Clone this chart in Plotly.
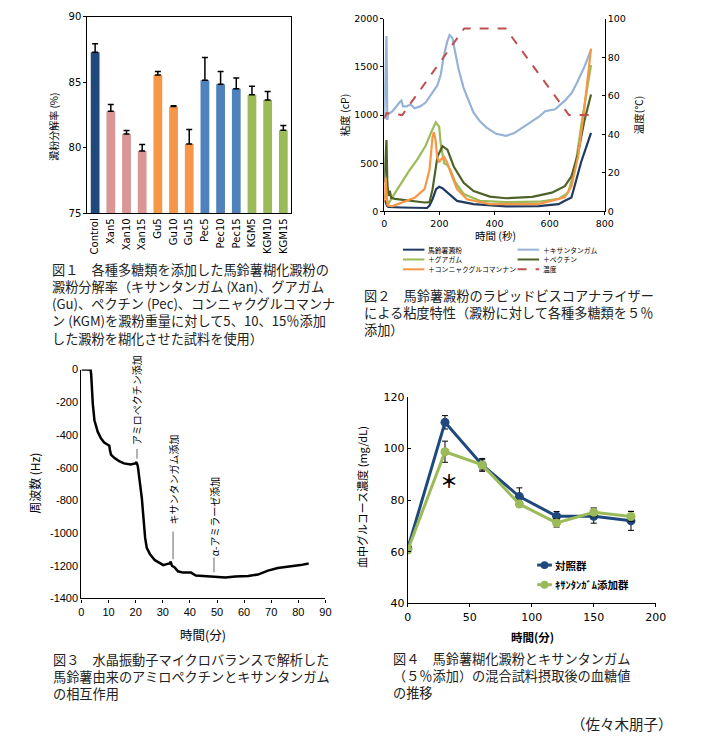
import plotly.graph_objects as go

W, H = 705, 744
def X(px): return px / W
def Y(py): return 1 - py / H

JP = "Noto Sans CJK JP"
NUM = "DejaVu Sans, Noto Sans CJK JP"
ARIAL = "Liberation Sans, Noto Sans CJK JP"

# ---------------- Fig 1 data ----------------
bar_cats = ["Control", "Xan5", "Xan10", "Xan15", "Gu5", "Gu10", "Gu15",
            "Pec5", "Pec10", "Pec15", "KGM5", "KGM10", "KGM15"]
bar_vals = [87.3, 82.8, 81.05, 79.75, 85.55, 83.15, 80.3, 85.15, 84.85, 84.5, 84.05, 83.65, 81.35]
bar_errs = [0.65, 0.5, 0.28, 0.5, 0.27, 0.07, 1.1, 1.75, 0.97, 0.82, 0.65, 0.65, 0.35]
bar_colors = ["#1F497D", "#D99694", "#D99694", "#D99694", "#F79646", "#F79646", "#F79646",
              "#4F81BD", "#4F81BD", "#4F81BD", "#9BBB59", "#9BBB59", "#9BBB59"]

# ---------------- Fig 2 data (RVA) ----------------
potato_t = [0, 5, 10, 15, 62, 110, 155, 164, 175, 188, 199, 211, 229, 264, 324, 442, 560, 632, 655, 679, 714, 750]
potato_v = [110, 100, 55, 45, 40, 38, 35, 60, 126, 230, 255, 240, 194, 109, 75, 51, 55, 75, 110, 143, 510, 815]

xan_t = [0, 4, 8, 11, 14, 30, 45, 55, 62, 68, 80, 95, 110, 130, 150, 175, 193, 205, 215, 228, 237, 247,
         258, 270, 288, 305, 323, 347, 371, 406, 442, 470, 513, 560, 584, 600, 620, 655, 680, 700, 726, 750]
xan_v = [980, 1300, 1820, 950, 1010, 1040, 1100, 1130, 1150, 1090, 1090, 1110, 1070, 1090, 1130, 1230, 1310,
         1420, 1600, 1760, 1830, 1800, 1640, 1470, 1280, 1150, 1030, 935, 870, 805, 785, 810, 890, 980,
         1040, 1050, 1060, 1150, 1230, 1340, 1500, 1680]

guar_t = [0, 5, 12, 15, 30, 60, 90, 120, 150, 170, 187, 199, 205, 217, 229, 240, 258, 288, 347, 442, 560,
          632, 667, 691, 715, 750]
guar_v = [130, 180, 90, 80, 150, 290, 420, 540, 680, 820, 925, 880, 700, 500, 480, 430, 300, 180, 110, 95,
          100, 130, 195, 430, 900, 1520]

pec_t = [0, 4, 8, 11, 15, 20, 25, 39, 86, 146, 164, 175, 193, 211, 229, 252, 288, 324, 383, 442, 537, 608,
         655, 679, 703, 726, 750]
pec_v = [300, 500, 740, 300, 160, 215, 140, 130, 112, 92, 95, 228, 568, 677, 640, 466, 296, 211, 153, 136,
         150, 194, 262, 364, 602, 942, 1214]

kgm_t = [0, 3, 5, 8, 12, 30, 62, 110, 146, 164, 175, 180, 186, 192, 199, 206, 217, 229, 241, 264, 300, 383,
         560, 655, 679, 703, 726, 750]
kgm_v = [100, 200, 350, 200, 60, 55, 90, 140, 230, 430, 770, 823, 740, 560, 510, 540, 565, 500, 400, 230,
         126, 75, 75, 145, 260, 570, 1080, 1690]

temp_t = [0, 8, 65, 290, 440, 670, 750]
temp_v = [48, 51, 50, 95, 95, 50, 50]

rva_names = ["馬鈴薯澱粉", "＋キサンタンガム", "＋グアガム", "＋ペクチン", "＋コンニャクグルコマンナン", "温度"]

# ---------------- Fig 3 data (QCM) ----------------
qcm_t = [0, 0.6, 3.4, 3.6, 4.2, 4.8, 6.0, 7.2, 8.4, 9.7, 10.3, 10.5, 10.9, 12.1, 13.9, 15.7, 18.1, 19.9,
         20.3, 20.8, 21.5, 22.3, 22.9, 23.5, 24.1, 25.3, 27.1, 28.9, 30.2, 31.4, 32.6, 32.9, 33.4, 34.4,
         35.6, 37.4, 40.4, 42.2, 45.8, 49.5, 53.1, 56.7, 61.5, 65.1, 68.8, 72.4, 77.2, 80.8, 83.8]
qcm_f = [0, 2, -2, -30, -210, -310, -380, -420, -446, -460, -466, -490, -520, -540, -560, -574, -580, -574,
         -566, -590, -670, -790, -910, -1030, -1090, -1130, -1166, -1186, -1196, -1190, -1186, -1174, -1200,
         -1210, -1234, -1242, -1242, -1260, -1264, -1270, -1272, -1266, -1262, -1254, -1230, -1214, -1206,
         -1196, -1186]
qcm_events = ["アミロペクチン添加", "キサンタンガム添加", "α-アミラーゼ添加"]
qcm_event_t = [20.5, 33.8, 48.9]
qcm_yticks = [0, -200, -400, -600, -800, -1000, -1200, -1400]
qcm_yticktext = ["0", "-200", "-400", "-600", "-800", "-1000", "-1200", "-1400"]

# ---------------- Fig 4 data (blood glucose) ----------------
bg_t = [0, 30, 60, 90, 120, 150, 180]
bg_ctrl = [61.3, 110.2, 93.7, 81.4, 73.8, 73.8, 72.0]
bg_ctrl_err = [1.0, 2.6, 2.5, 3.4, 1.8, 2.7, 3.7]
bg_xan = [60.7, 98.8, 93.7, 78.5, 71.2, 75.3, 73.7]
bg_xan_err = [1.0, 4.1, 2.0, 1.0, 1.6, 1.7, 1.9]
bg_names = ["対照群", "ｷｻﾝﾀﾝｶﾞﾑ添加群"]

fig = go.Figure()

# Fig 1 bars
fig.add_trace(go.Bar(x=bar_cats, y=bar_vals, marker=dict(color=bar_colors, line=dict(width=0)),
                     error_y=dict(type="data", symmetric=False, array=bar_errs,
                                  arrayminus=[0] * len(bar_errs), color="black", thickness=1.5, width=3),
                     xaxis="x", yaxis="y", showlegend=False))

# Fig 2 lines
rva_series = [(potato_t, potato_v, "#1F3A60", 2.2),
              (xan_t, xan_v, "#95B3D7", 2.2),
              (guar_t, guar_v, "#9BBB59", 2.2),
              (pec_t, pec_v, "#4F6228", 2.2),
              (kgm_t, kgm_v, "#F79646", 2.2)]
for (tt, vv, col, lw), nm in zip(rva_series, rva_names[:5]):
    fig.add_trace(go.Scatter(x=tt, y=vv, mode="lines", line=dict(color=col, width=lw),
                             xaxis="x2", yaxis="y2", name=nm, showlegend=False))
fig.add_trace(go.Scatter(x=temp_t, y=temp_v, mode="lines", line=dict(color="#C0504D", width=2, dash="dash"),
                         xaxis="x2", yaxis="y3", name=rva_names[5], showlegend=False))

# Fig 3 line
fig.add_trace(go.Scatter(x=qcm_t, y=qcm_f, mode="lines", line=dict(color="black", width=2.5),
                         xaxis="x3", yaxis="y4", showlegend=False))

# Fig 4 lines
fig.add_trace(go.Scatter(x=bg_t, y=bg_ctrl, mode="lines+markers", name=bg_names[0],
                         line=dict(color="#1F497D", width=3), marker=dict(size=9, color="#1F497D"),
                         error_y=dict(type="data", array=bg_ctrl_err, color="black", thickness=1, width=3),
                         xaxis="x4", yaxis="y5", showlegend=False))
fig.add_trace(go.Scatter(x=bg_t, y=bg_xan, mode="lines+markers", name=bg_names[1],
                         line=dict(color="#9BBB59", width=3), marker=dict(size=9, color="#9BBB59"),
                         error_y=dict(type="data", array=bg_xan_err, color="black", thickness=1, width=3),
                         xaxis="x4", yaxis="y5", showlegend=False))

ax = dict(showline=True, linecolor="black", linewidth=1, showgrid=False, zeroline=False,
          ticks="outside", ticklen=3, tickcolor="black")

layout = dict(
    width=W, height=H, autosize=False, margin=dict(l=0, r=0, t=0, b=0),
    paper_bgcolor="white", plot_bgcolor="rgba(0,0,0,0)", bargap=0.44,
    font=dict(family=JP, color="black"),
    xaxis=dict(ax, domain=[X(86), X(294)], anchor="y", mirror=True, tickangle=-90, ticks="",
               tickfont=dict(family=NUM, size=10)),
    yaxis=dict(ax, domain=[Y(211), Y(11)], anchor="x", mirror=True, range=[75, 90], dtick=5,
               tickfont=dict(family=NUM, size=10)),
    xaxis2=dict(ax, domain=[X(389), X(614)], anchor="y2", range=[0, 800], dtick=200,
                tickfont=dict(family=NUM, size=9.5)),
    yaxis2=dict(ax, domain=[Y(209), Y(13)], anchor="x2", range=[0, 2000], dtick=500,
                tickfont=dict(family=NUM, size=9.5)),
    yaxis3=dict(ax, overlaying="y2", side="right", anchor="x2", range=[0, 100], dtick=20,
                ticks="inside", tickfont=dict(family=NUM, size=9.5)),
    xaxis3=dict(ax, domain=[X(80), X(329)], anchor="y4", range=[0, 90], dtick=10, linewidth=1.2,
                tickfont=dict(family=ARIAL, size=11)),
    yaxis4=dict(ax, domain=[Y(603), Y(370)], anchor="x3", range=[-1400, 0], linewidth=1.2,
                tickvals=qcm_yticks, ticktext=qcm_yticktext, ticks="",
                tickfont=dict(family=ARIAL, size=11)),
    xaxis4=dict(ax, domain=[X(413), X(666)], anchor="y5", range=[0, 200], dtick=50,
                tickfont=dict(family=NUM, size=11)),
    yaxis5=dict(ax, domain=[Y(608), Y(398)], anchor="x4", range=[40, 120], dtick=20, ticks="inside",
                tickfont=dict(family=NUM, size=11)),
)
fig.update_layout(**layout)

ann = []
shapes = []
def txt(x, y, s, size=13.5, xanchor="left", yanchor="middle", angle=0, color="#222", family=JP,
        xref="paper", yref="paper", bold=False, align="left"):
    if bold:
        s = "<b>" + s + "</b>"
    ann.append(dict(x=x, y=y, xref=xref, yref=yref, text=s, showarrow=False, xanchor=xanchor,
                    yanchor=yanchor, textangle=angle, align=align, borderpad=0,
                    font=dict(size=size, color=color, family=family)))

# axis titles
txt(X(52), Y(123), "澱粉分解率 (%)", size=10, xanchor="center", angle=-90, color="black")
txt(X(348), Y(111), "粘度 (cP)", size=10.5, xanchor="center", angle=-90, color="black")
txt(X(648), Y(111), "温度(℃)", size=10.5, xanchor="center", angle=-90, color="black")
txt(X(502), Y(234), "時間 (秒)", size=10.5, xanchor="center", color="black")
txt(X(32), Y(486), "周波数 (Hz)", size=12, xanchor="center", angle=-90, color="black")
txt(X(204), Y(640), "時間(分)", size=12.5, xanchor="center", color="black")
txt(X(367), Y(500), "血中グルコース濃度 (mg/dL)", size=11, xanchor="center", angle=-90, color="black")
txt(X(540), Y(642), "時間(分)", size=11.5, xanchor="center", color="black", bold=True)

# Fig 2 legend (manual)
leg_cols = ["#1F3A60", "#95B3D7", "#9BBB59", "#4F6228", "#F79646", "#C0504D"]
leg_pos = [(408, 248), (525, 248), (408, 258), (525, 258), (408, 268), (525, 268)]
for (lx, ly), col, nm in zip(leg_pos, leg_cols, rva_names):
    shapes.append(dict(type="line", xref="paper", yref="paper", x0=X(lx), x1=X(lx + 22), y0=Y(ly), y1=Y(ly),
                       line=dict(color=col, width=2, dash="dash" if nm == "温度" else "solid")))
    txt(X(lx + 25), Y(ly), nm, size=6.8, color="black")

# Fig 3 events
ev_text_y = [-186, -672, -897]
ev_line = [(-486, -546), (-990, -1160), (-1150, -1240)]
for t, s, ty, (l0, l1) in zip(qcm_event_t, qcm_events, ev_text_y, ev_line):
    txt(t, ty, s, size=10, xanchor="center", angle=-90, color="black", xref="x3", yref="y4")
    shapes.append(dict(type="line", xref="x3", yref="y4", x0=t, x1=t, y0=l0, y1=l1,
                       line=dict(color="#999", width=1.5)))

# Fig 4 legend (manual) + asterisk
for (ly, col, nm) in [(569, "#1F497D", bg_names[0]), (589, "#9BBB59", bg_names[1])]:
    shapes.append(dict(type="line", xref="paper", yref="paper", x0=X(545), x1=X(560), y0=Y(ly), y1=Y(ly),
                       line=dict(color=col, width=3)))
    shapes.append(dict(type="circle", xref="paper", yref="paper", x0=X(548.5), x1=X(556.5),
                       y0=Y(ly + 4), y1=Y(ly - 4), fillcolor=col, line=dict(color=col, width=0)))
    txt(X(562), Y(ly), nm, size=10.5, color="black", bold=True)
txt(33, 88, "<b>＊</b>", size=18, xanchor="center", color="black", xref="x4", yref="y5")

# captions (one multi-line annotation each)
cap1 = ["図１　各種多糖類を添加した馬鈴薯糊化澱粉の",
        "澱粉分解率（キサンタンガム (Xan)、グアガム",
        "(Gu)、ペクチン (Pec)、コンニャクグルコマンナ",
        "ン (KGM)を澱粉重量に対して5、10、15％添加",
        "した澱粉を糊化させた試料を使用）"]
cap2 = ["図２　馬鈴薯澱粉のラピッドビスコアナライザー",
        "による粘度特性（澱粉に対して各種多糖類を５％",
        "添加）"]
cap3 = ["図３　水晶振動子マイクロバランスで解析した",
        "馬鈴薯由来のアミロペクチンとキサンタンガム",
        "の相互作用"]
cap4 = ["図４　馬鈴薯糊化澱粉とキサンタンガム",
        "（５％添加）の混合試料摂取後の血糖値",
        "の推移"]
CS = 13.2
txt(X(49), Y(303.5), "<br>".join(cap1), size=CS)
txt(X(367), Y(312), "<br>".join(cap2), size=CS)
txt(X(50), Y(682), "<br>".join(cap3), size=CS)
txt(X(397), Y(681), "<br>".join(cap4), size=CS)
txt(X(685), Y(730), "（佐々木朋子）", size=14.5, xanchor="right")

fig.update_layout(annotations=ann, shapes=shapes)
fig.write_html("out.html", config={"displayModeBar": False},
               post_script="document.body.style.margin='0';document.body.style.overflow='hidden';")
